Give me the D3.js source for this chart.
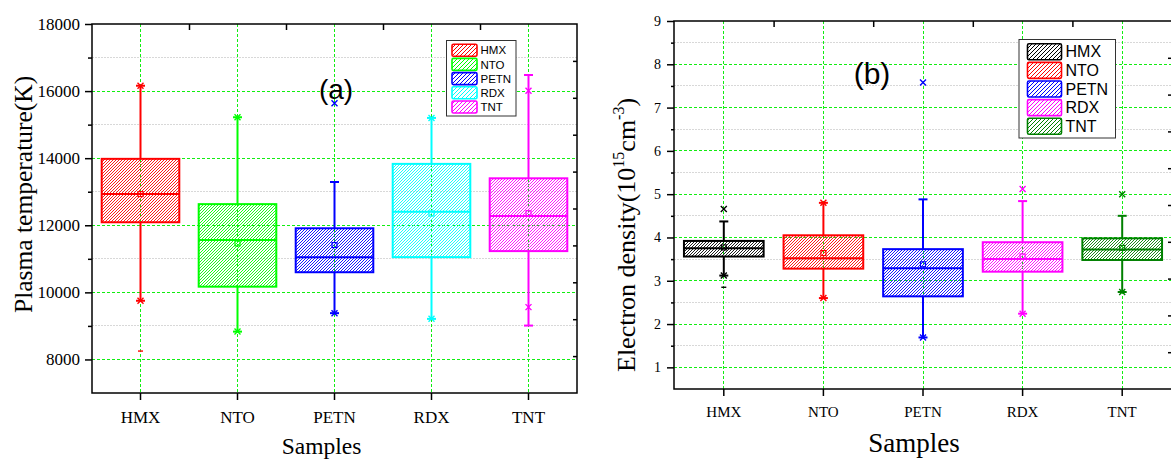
<!DOCTYPE html>
<html><head><meta charset="utf-8">
<script src="https://cdn.jsdelivr.net/npm/d3@7"></script>
<style>body{margin:0;background:#fff;} svg{display:block;}</style>
</head><body>
<svg id="chart" width="1171" height="459"></svg>
<script>
const categories = ["HMX", "NTO", "PETN", "RDX", "TNT"];

// Panel (a): plasma temperature (K)
const tempQ1     = [12090, 10170, 10600, 11050, 11230];
const tempMedian = [12930, 11560, 11050, 12400, 12280];
const tempQ3     = [13980, 12630, 11910, 13830, 13400];
const tempLow    = [9750, 8830, 9380, 9210, 9010];
const tempHigh   = [16160, 15220, 13290, 15200, 16480];
const tempMean   = [12930, 11460, 11410, 12350, 12360];
const tempCross  = [[9750, 16160], [8830, 15220], [9380, 15640], [9210, 15200], [9560, 16010]];
const tempDash   = [[8250], [], [], [], []];
const tempColors = ["#ff0000", "#00ff00", "#0000ff", "#00ffff", "#ff00ff"];
const tempMajorTicks = [8000, 10000, 12000, 14000, 16000, 18000];
const tempMinorTicks = [9000, 11000, 13000, 15000, 17000];

// Panel (b): electron density (10^15 cm^-3)
const densQ1     = [3.56, 3.28, 2.64, 3.21, 3.48];
const densMedian = [3.75, 3.52, 3.29, 3.50, 3.72];
const densQ3     = [3.92, 4.05, 3.73, 3.89, 3.98];
const densLow    = [3.12, 2.60, 1.69, 2.24, 2.74];
const densHigh   = [4.37, 4.80, 4.88, 4.84, 4.50];
const densMean   = [3.77, 3.64, 3.38, 3.56, 3.76];
const densCross  = [[3.12, 4.66], [2.60, 4.80], [1.69, 7.58], [2.24, 5.12], [2.74, 5.00]];
const densDash   = [[2.85], [], [], [], []];
const densColors = ["#000000", "#ff0000", "#0000ff", "#ff00ff", "#008000"];
const densMajorTicks = [1, 2, 3, 4, 5, 6, 7, 8, 9];
const densMinorTicks = [1.5, 2.5, 3.5, 4.5, 5.5, 6.5, 7.5, 8.5];

const rightAxisTicks = [1, 2, 3, 4, 5, 6, 7, 8, 9];
const boundaryTicks = [1, 2, 3, 4];

const SERIF = "'Liberation Serif', 'Times New Roman', serif";
const SANS = "'Liberation Sans', Arial, sans-serif";

const svg = d3.select("#chart");
const defs = svg.append("defs");

function hatch(id, color, size, sw) {
  const p = defs.append("pattern").attr("id", id)
    .attr("patternUnits", "userSpaceOnUse").attr("width", size).attr("height", size);
  const q = size / 4;
  p.append("path")
    .attr("d", `M${-q},${q} L${q},${-q} M0,${size} L${size},0 M${size - q},${size + q} L${size + q},${size - q}`)
    .attr("stroke", color).attr("stroke-width", sw).attr("fill", "none");
}

function drawPanel(o) {
  const g = svg.append("g");
  const x = d3.scaleBand().domain(categories).range([o.left, o.right]);
  const xi = d3.scaleLinear().domain([0, categories.length]).range([o.left, o.right]);
  const y = d3.scaleLinear().domain(o.yDomain).range([o.bottom, o.top]);
  const yR = d3.scaleLinear().domain([0, 10]).range([o.bottom, o.top]);
  const cx = c => x(c) + x.bandwidth() / 2;
  const bw = x.bandwidth() * 0.8;

  o.colors.forEach((c, i) => {
    hatch(`${o.id}-h${i}`, c, 3, 0.9);
    hatch(`${o.id}-lh${i}`, c, 4, 1);
  });

  // minor grid
  g.append("g").attr("shape-rendering", "crispEdges").selectAll("line").data(o.minor).join("line")
    .attr("x1", o.left).attr("x2", o.right)
    .attr("y1", d => y(d)).attr("y2", d => y(d))
    .attr("stroke", "#d8d8d8").attr("stroke-width", 1).attr("stroke-dasharray", "2,1");
  // major grid
  g.append("g").attr("shape-rendering", "crispEdges").selectAll("line").data(o.major.filter(v => v < o.yDomain[1])).join("line")
    .attr("x1", o.left).attr("x2", o.right)
    .attr("y1", d => y(d)).attr("y2", d => y(d))
    .attr("stroke", "#11ee11").attr("stroke-width", 1).attr("stroke-dasharray", "3,2");
  g.append("g").attr("shape-rendering", "crispEdges").selectAll("line").data(categories).join("line")
    .attr("x1", d => cx(d)).attr("x2", d => cx(d))
    .attr("y1", o.top).attr("y2", o.bottom)
    .attr("stroke", "#11ee11").attr("stroke-width", 1).attr("stroke-dasharray", "3,2");

  // boxes
  categories.forEach((c, i) => {
    const col = o.colors[i];
    const bg = g.append("g");
    const xc = cx(c);
    bg.append("line").attr("x1", xc).attr("x2", xc).attr("y1", y(o.q3[i])).attr("y2", y(o.high[i]))
      .attr("stroke", col).attr("stroke-width", 2);
    bg.append("line").attr("x1", xc).attr("x2", xc).attr("y1", y(o.q1[i])).attr("y2", y(o.low[i]))
      .attr("stroke", col).attr("stroke-width", 2);
    [o.low[i], o.high[i]].forEach(v => {
      bg.append("line").attr("x1", xc - 4.5).attr("x2", xc + 4.5).attr("y1", y(v)).attr("y2", y(v))
        .attr("stroke", col).attr("stroke-width", 2);
    });
    bg.append("rect").attr("x", xc - bw / 2).attr("width", bw)
      .attr("y", y(o.q3[i])).attr("height", y(o.q1[i]) - y(o.q3[i]))
      .attr("fill", `url(#${o.id}-h${i})`).attr("stroke", col).attr("stroke-width", 2);
    bg.append("line").attr("x1", xc - bw / 2).attr("x2", xc + bw / 2)
      .attr("y1", y(o.median[i])).attr("y2", y(o.median[i]))
      .attr("stroke", col).attr("stroke-width", 2);
    bg.append("rect").attr("x", xc - 2.5).attr("y", y(o.mean[i]) - 2.5).attr("width", 5).attr("height", 5)
      .attr("fill", "none").attr("stroke", col).attr("stroke-width", 1.2);
    o.cross[i].forEach(v => {
      const yy = y(v);
      bg.append("path").attr("d", `M${xc - 3},${yy - 3}L${xc + 3},${yy + 3}M${xc - 3},${yy + 3}L${xc + 3},${yy - 3}`)
        .attr("stroke", col).attr("stroke-width", 1.4).attr("fill", "none");
    });
    o.dash[i].forEach(v => {
      bg.append("line").attr("x1", xc - 2.5).attr("x2", xc + 2.5).attr("y1", y(v)).attr("y2", y(v))
        .attr("stroke", col).attr("stroke-width", 1.4);
    });
  });

  // axes
  const styleAxis = (sel) => {
    sel.attr("font-family", SERIF);
    sel.select(".domain").remove();
    sel.selectAll(".tick line").attr("stroke", "#000").attr("stroke-width", 1.5);
    sel.selectAll("text").attr("fill", "#000").attr("font-family", SERIF);
  };
  g.append("g").attr("transform", `translate(${o.left},0)`)
    .call(d3.axisLeft(y).tickValues(o.major).tickSize(7).tickPadding(o.yPad).tickFormat(d3.format("d")))
    .call(styleAxis).call(s => s.selectAll("text").attr("font-size", o.yTickFont));
  g.append("g").attr("transform", `translate(${o.left},0)`)
    .call(d3.axisLeft(y).tickValues(o.minor).tickSize(o.minorLen).tickFormat(""))
    .call(styleAxis);
  g.append("g").attr("transform", `translate(0,${o.bottom})`)
    .call(d3.axisBottom(x).tickSize(7).tickPadding(o.xPad))
    .call(styleAxis).call(s => s.selectAll("text").attr("font-size", o.xTickFont));
  g.append("g").attr("transform", `translate(0,${o.top})`)
    .call(d3.axisTop(xi).tickValues(boundaryTicks).tickSize(-6).tickFormat(""))
    .call(styleAxis);
  g.append("g").attr("transform", `translate(${o.right},0)`)
    .call(d3.axisRight(yR).tickValues(rightAxisTicks).tickSize(-4).tickFormat(""))
    .call(styleAxis);
  g.append("rect").attr("x", o.left).attr("y", o.top)
    .attr("width", o.right - o.left).attr("height", o.bottom - o.top)
    .attr("fill", "none").attr("stroke", "#000").attr("stroke-width", 1.5);

  // panel label
  g.append("text").attr("x", o.tagX).attr("y", o.tagY).attr("text-anchor", "middle")
    .attr("font-family", SANS).attr("font-size", o.tagSize).text(o.tag);

  // legend
  const L = o.legend;
  const lg = g.append("g");
  lg.append("rect").attr("x", L.x).attr("y", L.y).attr("width", L.w).attr("height", L.h)
    .attr("fill", "#fff").attr("stroke", "#333").attr("stroke-width", 1);
  categories.forEach((c, i) => {
    const ry = L.y + L.first + i * L.step;
    lg.append("rect").attr("x", L.x + L.sx).attr("y", ry - L.sh / 2).attr("width", L.sw).attr("height", L.sh)
      .attr("rx", 1.5).attr("fill", `url(#${o.id}-lh${i})`).attr("stroke", o.colors[i]).attr("stroke-width", 1.6);
    lg.append("text").attr("x", L.x + L.tx).attr("y", ry).attr("dy", "0.36em")
      .attr("font-family", SANS).attr("font-size", L.font).text(c);
  });

  // x title
  g.append("text").attr("x", o.xTitleX).attr("y", o.xTitleY).attr("text-anchor", "middle")
    .attr("font-family", SERIF).attr("font-size", o.xTitleSize).text("Samples");
}

drawPanel({
  id: "a", left: 92, right: 577, top: 24, bottom: 393, yDomain: [7000, 18000],
  q1: tempQ1, median: tempMedian, q3: tempQ3, low: tempLow, high: tempHigh, mean: tempMean,
  cross: tempCross, dash: tempDash, colors: tempColors, major: tempMajorTicks, minor: tempMinorTicks,
  minorLen: 4, yPad: 5, xPad: 11, yTickFont: 17, xTickFont: 17,
  tag: "(a)", tagX: 336, tagY: 99, tagSize: 28,
  legend: { x: 446.5, y: 40.5, w: 69.5, h: 75.5, first: 9.7, step: 14.2, sx: 5.5, sw: 25, sh: 12, tx: 34, font: 11.5 },
  xTitleX: 321.5, xTitleY: 454, xTitleSize: 23.5
});

drawPanel({
  id: "b", left: 674, right: 1172, top: 21, bottom: 389, yDomain: [0.5, 9],
  q1: densQ1, median: densMedian, q3: densQ3, low: densLow, high: densHigh, mean: densMean,
  cross: densCross, dash: densDash, colors: densColors, major: densMajorTicks, minor: densMinorTicks,
  minorLen: 3, yPad: 6, xPad: 10, yTickFont: 14, xTickFont: 15,
  tag: "(b)", tagX: 872, tagY: 84, tagSize: 30,
  legend: { x: 1019, y: 39.5, w: 96.5, h: 98.5, first: 12.2, step: 18.65, sx: 8.5, sw: 34, sh: 16, tx: 46.5, font: 16 },
  xTitleX: 914, xTitleY: 451.5, xTitleSize: 27
});

// y-axis titles
svg.append("text").attr("transform", "translate(32,313) rotate(-90)")
  .attr("font-family", SERIF).attr("font-size", 25.5).attr("fill", "#000")
  .text("Plasma temperature(K)");

const yt = svg.append("text").attr("transform", "translate(635,372) rotate(-90)")
  .attr("font-family", SERIF).attr("font-size", 26).attr("fill", "#000");
yt.append("tspan").text("Electron density(10");
yt.append("tspan").attr("font-size", 16).attr("dy", -11).text("15");
yt.append("tspan").attr("dy", 11).text("cm");
yt.append("tspan").attr("font-size", 16).attr("dy", -11).text("-3");
yt.append("tspan").attr("dy", 11).text(")");
</script>
</body></html>
